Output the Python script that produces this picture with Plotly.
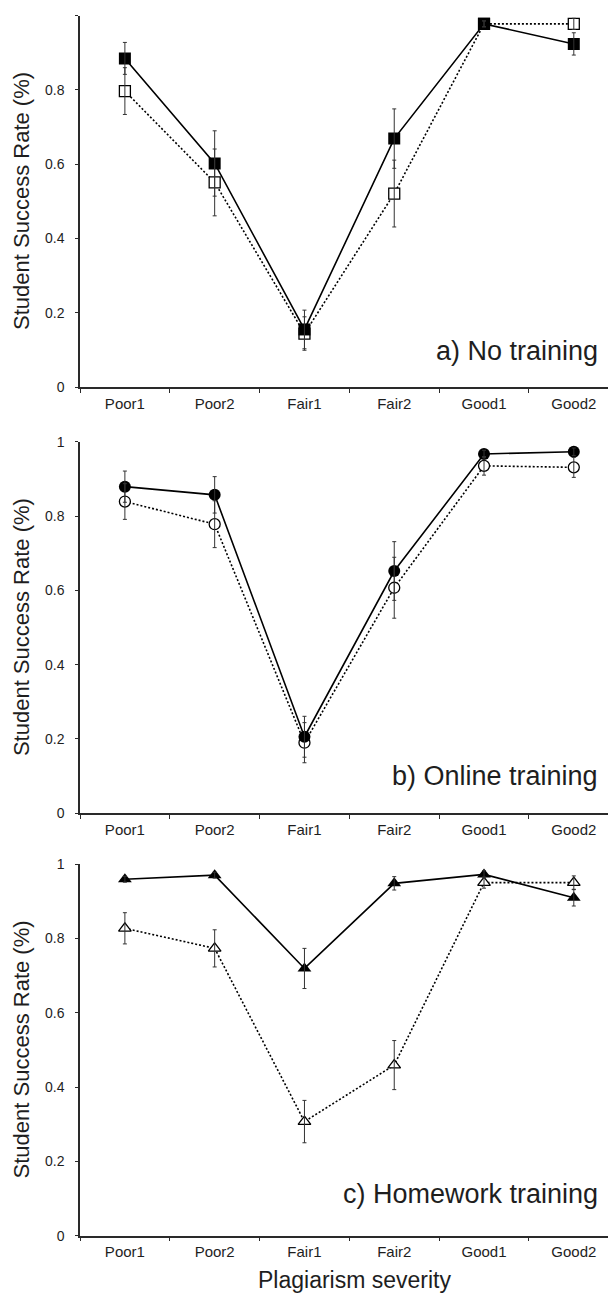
import plotly.graph_objects as go

categories = ["Poor1", "Poor2", "Fair1", "Fair2", "Good1", "Good2"]
y_ticks = [0, 0.2, 0.4, 0.6, 0.8, 1]
y_tick_labels = ["0", "0.2", "0.4", "0.6", "0.8", "1"]

# Panel a) No training (squares)
solid_a = [0.885, 0.602, 0.155, 0.669, 0.978, 0.924]
solid_a_err = [0.043, 0.088, 0.052, 0.080, 0.008, 0.030]
open_a = [0.797, 0.551, 0.144, 0.521, 0.978, 0.978]
open_a_err = [0.063, 0.090, 0.045, 0.090, 0.008, 0.015]

# Panel b) Online training (circles)
solid_b = [0.879, 0.857, 0.206, 0.652, 0.967, 0.973]
solid_b_err = [0.042, 0.049, 0.055, 0.079, 0.010, 0.010]
open_b = [0.839, 0.778, 0.190, 0.607, 0.935, 0.931]
open_b_err = [0.048, 0.063, 0.054, 0.082, 0.025, 0.027]

# Panel c) Homework training (triangles)
solid_c = [0.959, 0.970, 0.719, 0.948, 0.972, 0.909]
solid_c_err = [0.008, 0.008, 0.054, 0.018, 0.010, 0.022]
open_c = [0.827, 0.773, 0.307, 0.459, 0.950, 0.950]
open_c_err = [0.042, 0.050, 0.057, 0.066, 0.015, 0.018]

panel_labels = ["a) No training", "b) Online training", "c) Homework training"]
y_title = "Student Success Rate (%)"
x_title = "Plagiarism severity"

# The page body has an 8px default margin, so the figure is drawn 8px smaller
OFF = 8
W, H = 616 - OFF, 1295 - OFF
L = 80 - OFF
PW = W - L
FONT = "Liberation Sans, Arial, sans-serif"
INK = "#1e1e1e"

panels = [
    (solid_a, solid_a_err, open_a, open_a_err, "square", 12),
    (solid_b, solid_b_err, open_b, open_b_err, "circle", 12),
    (solid_c, solid_c_err, open_c, open_c_err, "triangle-up", 12),
]
# pixel positions (top, bottom) of each plot area in the reference page
px_areas = [(15.7, 387.0), (441.7, 813.3), (864.0, 1235.7)]
label_y = [0.097, 0.10, 0.113]

fig = go.Figure()
layout = dict(
    width=W, height=H,
    margin=dict(l=L, r=0, t=0, b=0),
    paper_bgcolor="white", plot_bgcolor="white",
    showlegend=False,
    font=dict(family=FONT, color=INK, size=14),
)
annotations = []

for i, (s, se, o, oe, sym, msize) in enumerate(panels):
    xa = "x" if i == 0 else f"x{i+1}"
    ya = "y" if i == 0 else f"y{i+1}"
    err_style = dict(type="data", thickness=1, width=2, color="#333333")
    fig.add_trace(go.Scatter(
        x=categories, y=o, mode="lines+markers", xaxis=xa, yaxis=ya,
        line=dict(color="black", width=1.6, dash="2px,2px"),
        marker=dict(symbol=sym, size=msize - 1, color="white",
                    line=dict(color="black", width=1.3)),
    ))
    fig.add_trace(go.Scatter(
        x=categories, y=s, mode="lines+markers", xaxis=xa, yaxis=ya,
        line=dict(color="black", width=1.6),
        marker=dict(symbol=sym, size=msize, color="black",
                    line=dict(color="black", width=0)),
    ))
    fig.add_trace(go.Scatter(
        x=categories, y=o, mode="markers", xaxis=xa, yaxis=ya,
        marker=dict(size=0.1, color="rgba(0,0,0,0)"),
        error_y=dict(array=oe, **err_style),
    ))
    fig.add_trace(go.Scatter(
        x=categories, y=s, mode="markers", xaxis=xa, yaxis=ya,
        marker=dict(size=0.1, color="rgba(0,0,0,0)"),
        error_y=dict(array=se, **err_style),
    ))

    top, bot = px_areas[i]
    top -= OFF
    bot -= OFF
    dom = [1 - bot / H, 1 - top / H]
    xkey = "xaxis" if i == 0 else f"xaxis{i+1}"
    ykey = "yaxis" if i == 0 else f"yaxis{i+1}"
    layout[xkey] = dict(
        type="category", categoryorder="array", categoryarray=categories,
        range=[-0.5, 5.47], domain=[0, 1], anchor=ya, automargin=False,
        showline=True, linecolor="#2a2a2a", linewidth=1.5,
        ticks="outside", ticklen=4, tickwidth=1.2, tickcolor="#2a2a2a",
        tickson="boundaries", showgrid=False, zeroline=False,
        tickfont=dict(size=15, family=FONT, color=INK),
        ticklabelstandoff=2,
    )
    layout[ykey] = dict(
        range=[0, 1], domain=dom, anchor=xa, automargin=False,
        showline=True, linecolor="#2a2a2a", linewidth=1.5,
        ticks="outside", ticklen=3, tickwidth=1.2, tickcolor="#2a2a2a",
        tickvals=y_ticks, ticktext=y_tick_labels,
        showgrid=False, zeroline=False,
        tickfont=dict(size=14, family=FONT, color=INK),
        ticklabelstandoff=8,
    )
    annotations.append(dict(
        text=panel_labels[i], xref="paper", x=(600 - OFF - L) / PW,
        yref=ya, y=label_y[i], xanchor="right", yanchor="middle",
        showarrow=False, font=dict(size=27, family=FONT, color=INK),
    ))
    annotations.append(dict(
        text=y_title, xref="paper", x=(21.6 - OFF - L) / PW,
        yref="paper", y=1 - ((top + bot) / 2) / H,
        xanchor="center", yanchor="middle", textangle=-90,
        showarrow=False, font=dict(size=22, family=FONT, color=INK),
    ))

annotations.append(dict(
    text=x_title, xref="paper", x=(354 - OFF - L) / PW,
    yref="paper", y=0, xanchor="center", yanchor="bottom",
    showarrow=False, font=dict(size=23, family=FONT, color=INK),
))
layout["annotations"] = annotations
fig.update_layout(**layout)
fig.write_html("out.html")
